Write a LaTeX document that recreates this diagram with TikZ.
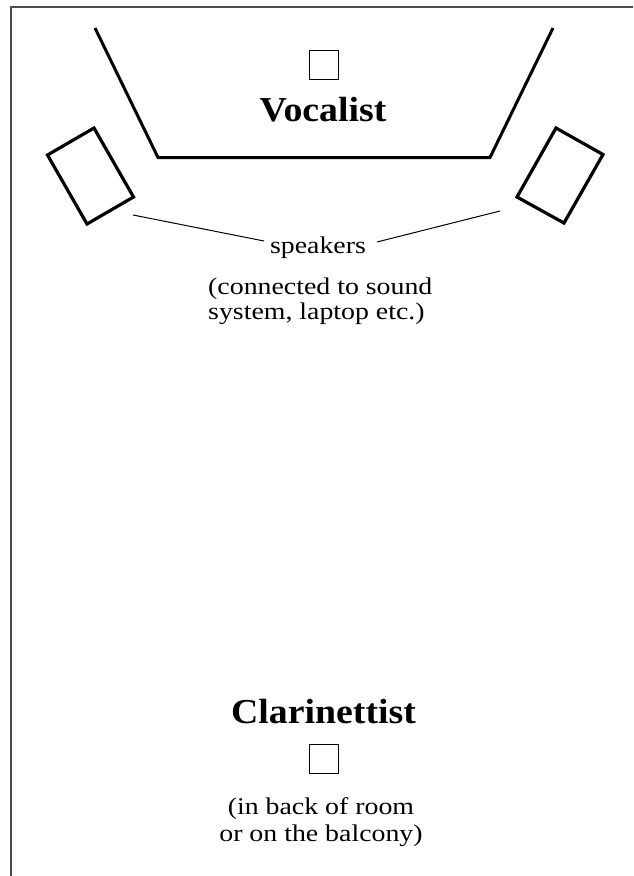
\documentclass[tikz,border=0pt]{standalone}
\usepackage{fontspec}
\setmainfont{Liberation Serif}
\newfontfamily\labelfont[FakeStretch=1.16]{Liberation Serif}
\newfontfamily\headfont[FakeStretch=1.08]{Liberation Serif}
\begin{document}
\begin{tikzpicture}[x=1pt,y=-1pt,
  frame/.style={draw=black!70,line width=2pt},
  stage/.style={draw=black,line width=3pt,line join=miter},
  speakerbox/.style={draw=black,line width=3.2pt,line join=miter},
  personbox/.style={draw=black,line width=1pt,minimum width=29pt,minimum height=29pt,inner sep=0pt},
  leader/.style={draw=black,line width=1pt},
  title/.style={font=\headfont\fontsize{35}{38}\selectfont\bfseries,anchor=base,inner sep=0pt},
  small/.style={font=\labelfont\fontsize{24}{26}\selectfont,anchor=base,inner sep=0pt}]
\useasboundingbox (0,0) rectangle (633,876);
\fill[white] (0,0) rectangle (633,876);
% frame
\draw[frame] (11,876) -- (11,7) -- (633,7);
% stage edge
\draw[stage] (95,28) -- (158,157.5) -- (490,157.5) -- (553,28);
% vocalist
\node[personbox] (vbox) at (324,64.5) {};
\node[title] (vocal) at (323,121) {Vocalist};
% speakers
\draw[speakerbox] (47.5,155) -- (94,128) -- (133.5,197) -- (87,224) -- cycle;
\draw[speakerbox] (517,197) -- (556,128) -- (603,154.5) -- (564,223) -- cycle;
\node[small] (spk) at (318,253) {speakers};
\coordinate (lA) at (133,215);
\coordinate (lB) at (264,241);
\coordinate (rA) at (377,242);
\coordinate (rB) at (500,211);
\draw[leader] (lA) -- (lB);
\draw[leader] (rA) -- (rB);
\node[small,anchor=base west] (c1) at (208,294) {(connected to sound};
\node[small,anchor=base west] (c2) at (208,319) {system, laptop etc.)};
% clarinettist
\node[title] (clar) at (323.5,723) {Clarinettist};
\node[personbox] (cbox) at (324,759) {};
\node[small] (b1) at (321,814) {(in back of room};
\node[small] (b2) at (321,841) {or on the balcony)};
\end{tikzpicture}
\end{document}
